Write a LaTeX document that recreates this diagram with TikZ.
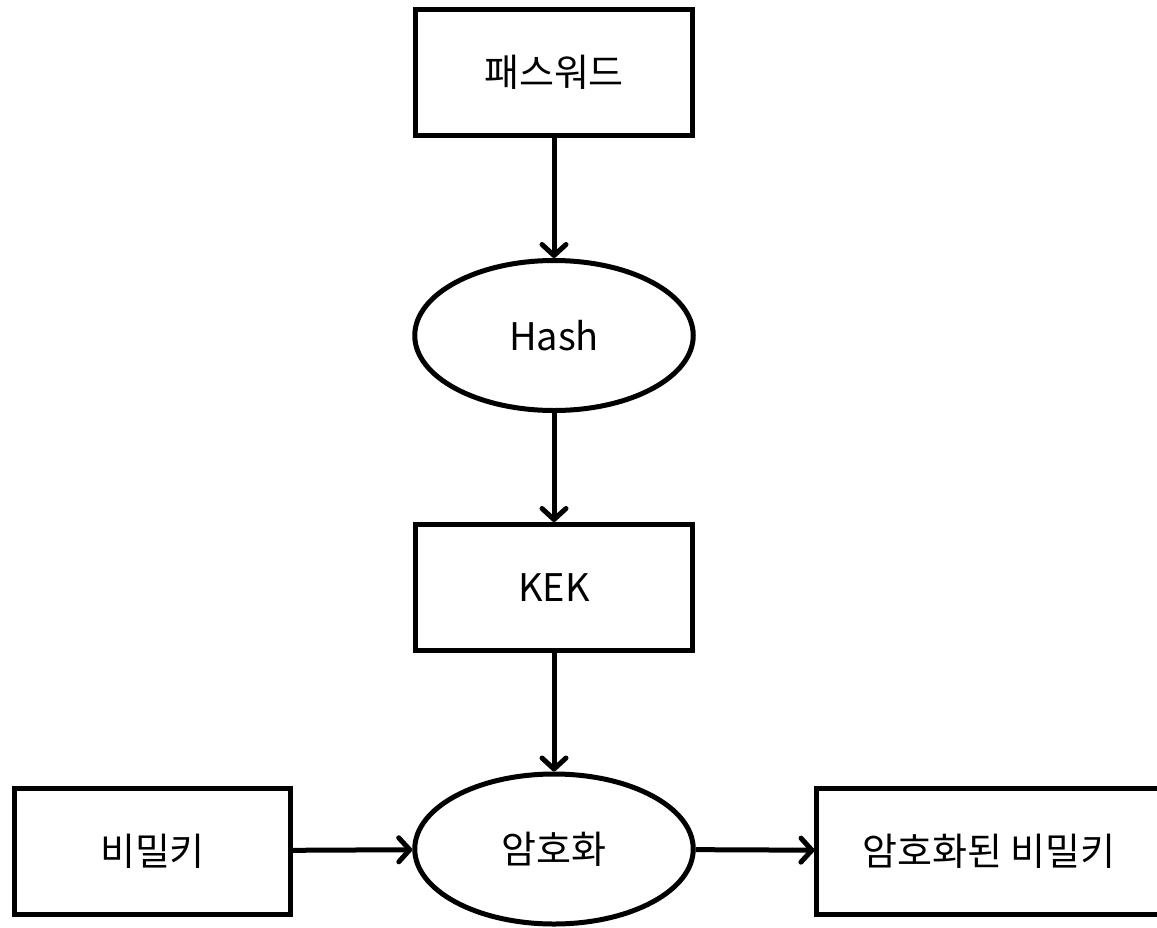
\documentclass[tikz,border=0pt]{standalone}
\usepackage{fontspec}
\setmainfont{Noto Sans CJK KR}
\usetikzlibrary{positioning}
\usetikzlibrary{shapes.geometric,arrows.meta}

\tikzset{
  box/.style={draw,line width=2.5pt,rectangle,minimum width=138.5pt,minimum height=63pt,inner sep=0pt},
  proc/.style={draw,line width=2.5pt,ellipse,minimum width=139.25pt,minimum height=75pt,inner sep=0pt},
  flow/.style={line width=2.5pt,-{Straight Barb[length=5.5pt,width=12pt,line cap=round,line join=round]}}
}

\begin{document}
\begin{tikzpicture}[node distance=130pt,on grid,font=\fontsize{19}{23}\selectfont]
   \useasboundingbox (0,0) rectangle (578.5pt,-463.5pt);
   \node[box] (pw) at (277pt,-36pt) {패스워드};
   \node[proc] (hash) [below=131.75pt of pw] {Hash};
   \node[box] (kek) [below=126pt of hash] {KEK};
   \node[proc] (enc) [below=130.75pt of kek] {암호화};
   \node[box] (sk) [left=200.75pt of enc,yshift=-1pt,minimum width=138pt] {비밀키};
   \node[box] (esk) [right=217.6pt of enc,yshift=-1pt,minimum width=172.25pt] {암호화된 비밀키};
   \draw[flow] (pw) -- (hash);
   \draw[flow] (hash) -- (kek);
   \draw[flow] (kek) -- (enc);
   \draw[flow] (sk) -- (enc);
   \draw[flow] (enc) -- (esk);
\end{tikzpicture}
\end{document}
